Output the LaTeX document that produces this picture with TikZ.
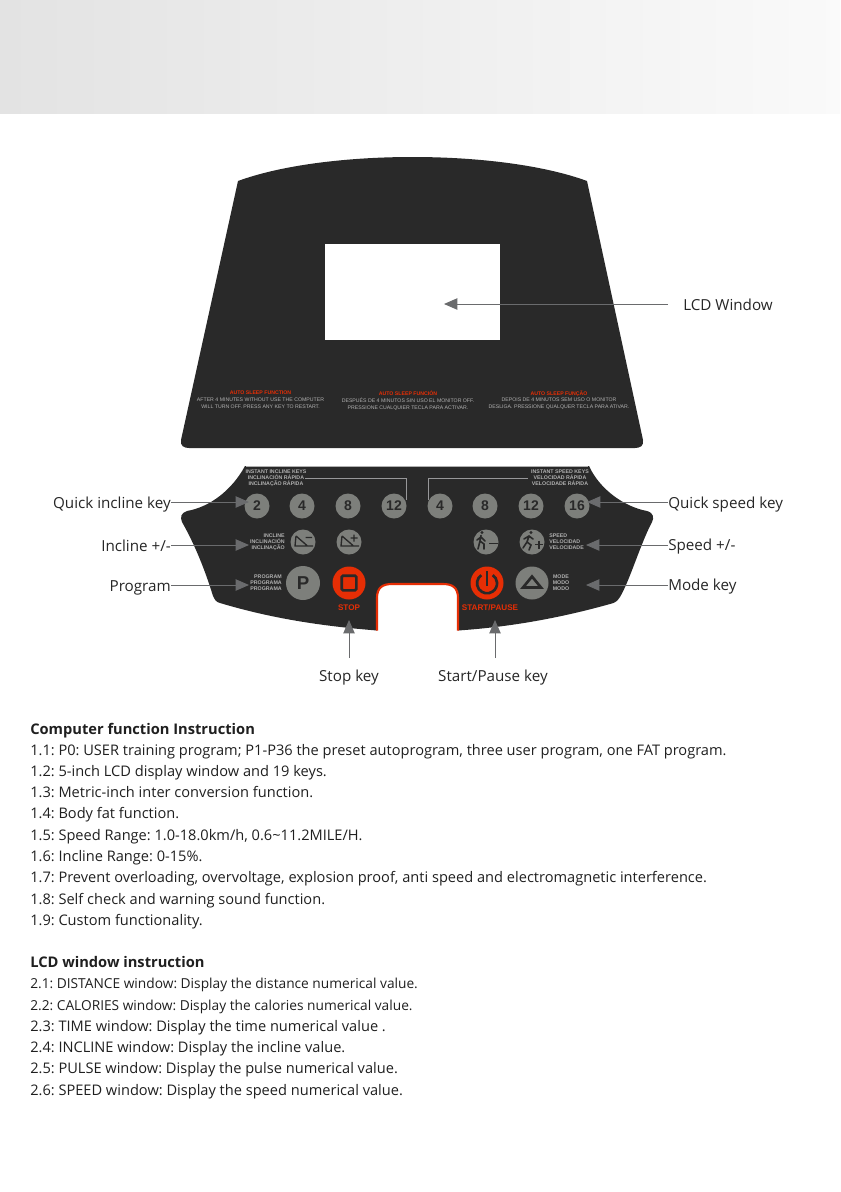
\documentclass[tikz,border=0pt]{standalone}
\usepackage{fontspec}
\setmainfont{Open Sans}
\newfontfamily\keyfont{Liberation Sans}
\usepackage{xcolor}
\usetikzlibrary{arrows.meta, calc, positioning}
\definecolor{panel}{HTML}{292929}
\definecolor{keygray}{HTML}{7D7F7B}
\definecolor{keyred}{HTML}{E62E05}
\definecolor{arrowgray}{HTML}{6A6B6D}
\definecolor{small}{HTML}{B0B0B0}
\newcommand{\narrowline}{\fontsize{10.3}{13}\selectfont}
\tikzset{
  roundkey/.style={circle, fill=keygray, minimum size=18.75pt, inner sep=0pt, text=panel, font=\keyfont\fontsize{10.5}{11}\selectfont\bfseries},
  redkey/.style={circle, fill=keyred, minimum size=24.75pt, inner sep=0pt},
  callout/.style={font=\fontsize{11.4}{13}\selectfont, text=black!85, inner sep=0pt},
  tinytext/.style={font=\keyfont\fontsize{3.95}{4.5}\selectfont\bfseries, text=small, inner sep=0pt, align=center},
  sleeptext/.style={font=\keyfont\fontsize{3.9}{5.25}\selectfont, text=small, inner sep=0pt, align=center},
  sleephead/.style={font=\keyfont\fontsize{3.9}{6}\selectfont\bfseries, text=keyred, inner sep=0pt},
  redlabel/.style={font=\keyfont\fontsize{6.1}{7}\selectfont\bfseries, text=keyred, inner sep=0pt},
  pointer/.style={draw=arrowgray, line width=0.75pt, -{Triangle[length=10pt, width=8.5pt]}},
  textline/.style={anchor=base west, inner sep=0pt, font=\fontsize{10.95}{13}\selectfont, text=black!88},
  headline/.style={textline, font=\fontsize{11}{13}\selectfont\bfseries}
}
\begin{document}
\frenchspacing
\begin{tikzpicture}[x=0.75pt, y=-0.75pt]
  \useasboundingbox (0,0) rectangle (840,1192);
  % header band
  \shade[left color=black!11, right color=black!2] (0,0) rectangle (840,113);
  % upper panel
  \fill[panel] (238,181) .. controls (325,149) and (500,149) .. (587,181)
    -- (643,440) .. controls (644,446) and (640,448) .. (635,448)
    -- (189,448) .. controls (184,448) and (180,446) .. (181,440) -- cycle;
  \node[fill=white, minimum width=131pt, minimum height=72.5pt, inner sep=0pt] (window) at (412.5,292) {};
  \node[sleephead] (head1) at (260.5,392.5) {AUTO SLEEP FUNCTION};
  \node[sleeptext] (body1) at (260.5,403.5) {AFTER 4 MINUTES WITHOUT USE THE COMPUTER\\WILL TURN OFF.  PRESS ANY KEY TO RESTART.};
  \node[sleephead] (head2) at (408,393.5) {AUTO SLEEP FUNCIÓN};
  \node[sleeptext] (body2) at (408,404.2) {DESPUÉS DE 4 MINUTOS SIN USO EL MONITOR OFF.\\PRESSIONE CUALQUIER TECLA PARA ACTIVAR.};
  \node[sleephead] (head3) at (559,393.5) {AUTO SLEEP FUNÇÃO};
  \node[sleeptext] (body3) at (559,403.7) {DEPOIS DE 4 MINUTOS SEM USO O MONITOR\\DESLIGA.  PRESSIONE QUALQUER TECLA PARA ATIVAR.};
  % lower panel
  \fill[panel] (245,466) -- (589,466) .. controls (600,490) and (625,507) .. (647,511)
    .. controls (654,513) and (654,518) .. (652,522) .. controls (640,545) and (630,580) .. (620,597)
    .. controls (617,602) and (614,603) .. (610,604) .. controls (560,618) and (510,627) .. (458,630.5)
    -- (377,630.5) .. controls (320,626) and (270,618) .. (220,603)
    .. controls (216,602) and (215,600) .. (213,596) .. controls (205,570) and (195,545) .. (182,522)
    .. controls (180,517) and (181,513) .. (187,511) .. controls (210,507) and (232,490) .. cycle;
  \fill[white] (377,631) -- (377,598) .. controls (377,588) and (382,584) .. (392,584)
    -- (443,584) .. controls (453,584) and (458,588) .. (458,598) -- (458,631) -- cycle;
  \draw[keyred, line width=1.6pt] (377,630.5) -- (377,598) .. controls (377,588) and (382,584) .. (392,584)
    -- (443,584) .. controls (453,584) and (458,588) .. (458,598) -- (458,630.5);
  \draw[small, line width=0.7pt] (246,466) -- (588,466);
  % round keys
  \foreach \name/\val/\xpos in {a/2/257, b/4/302, c/8/348, d/12/394, e/4/440, f/8/485, g/12/531, h/16/577}
    \node[roundkey] (key\name) at (\xpos,506) {\val};
  \draw[arrowgray!70!white, line width=0.75pt] (305,478) -- (406,478) -- (406,500);
  \draw[arrowgray!70!white, line width=0.75pt] (428,500) -- (428,478) -- (528,478);
  \node[tinytext] (inclkeys) at (276,478) {INSTANT INCLINE KEYS\\INCLINACIÓN RÁPIDA\\INCLINAÇÃO RÁPIDA};
  \node[tinytext] (speedkeys) at (560,478) {INSTANT SPEED KEYS\\VELOCIDAD RÁPIDA\\VELOCIDADE RÁPIDA};
  \node[roundkey] (inclminus) at (303,542) {};
  \node[roundkey] (inclplus) at (349,542) {};
  \node[roundkey] (speedminus) at (486,542) {};
  \node[roundkey] (speedplus) at (532,542) {};
  % incline icons
  \draw[panel, line width=1pt] (296,536) -- (295,546) -- (313,546) (296,536) -- (307,545.5) (305.5,537.5) -- (312,537.5);
  \draw[panel, line width=1pt] (342,536) -- (341,546) -- (359,546) (342,536) -- (353,545.5) (350.5,538) -- (357.5,538) (354,534.5) -- (354,541.5);
  % runner icons
  \draw[panel, line width=1.2pt, line cap=round] (481,535.5) -- (480,541) -- (478,549) (480,541) -- (484,544) -- (484,549) (477,540) -- (481,537) -- (485,541);
  \fill[panel] (482,532.5) circle (1.6);
  \draw[panel, line width=1pt] (489,543.5) -- (498,543.5);
  \draw[panel, line width=1.2pt, line cap=round] (529,536) -- (527,542) -- (523,548) (527,542) -- (531,545) -- (529,550) (524,539) -- (529,536) -- (533,539);
  \fill[panel] (531,532.5) circle (1.6);
  \draw[panel, line width=1pt] (535,544.5) -- (543,544.5) (539,540.5) -- (539,548.5);
  \node[tinytext, align=right, anchor=east] (incltext) at (285,542) {INCLINE\\INCLINACIÓN\\INCLINAÇÃO};
  \node[tinytext, align=left, anchor=west] (speedtext) at (549,542) {SPEED\\VELOCIDAD\\VELOCIDADE};
  \node[roundkey, minimum size=25.5pt, font=\keyfont\fontsize{14}{14}\selectfont\bfseries] (pkey) at (303,583) {P};
  \node[tinytext, align=right, anchor=east] (progtext) at (282,583) {PROGRAM\\PROGRAMA\\PROGRAMA};
  \node[redkey] (stopkey) at (349,583) {};
  \node[draw=panel, line width=2pt, fill=keyred, minimum size=11pt, inner sep=0pt, rounded corners=1pt] (stopsign) at (349,583) {};
  \node[redlabel] (stoptext) at (349,608) {STOP};
  \node[redkey] (startkey) at (487,583) {};
  \draw[panel, line width=2pt] (481.3,575.1) arc[start angle=235, end angle=-55, radius=10];
  \draw[keyred, line width=3.2pt] (487,571) -- (487,581);
  \draw[panel, line width=1.3pt] (487,571) -- (487,586);
  \node[redlabel] (starttext) at (490,608) {START/PAUSE};
  \node[roundkey, minimum size=24.75pt] (modekey) at (532,583) {};
  \draw[panel, line width=2pt, line join=miter] (532,576.5) -- (541,587.5) -- (523,587.5) -- cycle;
  \node[tinytext] (modetext) at (561,583) {MODE\\MODO\\MODO};
  % callouts
  \node[callout, anchor=east] (quickincl) at (171,505) {Quick incline key};
  \node[callout, anchor=east] (incl) at (171,546) {Incline +/-};
  \node[callout, anchor=east] (prog) at (171,588) {Program};
  \node[callout, anchor=west] (quickspeed) at (668,505) {Quick speed key};
  \node[callout, anchor=west] (speed) at (668,547) {Speed +/-};
  \node[callout, anchor=west] (mode) at (668,587) {Mode key};
  \node[callout] (lcd) at (728,305) {LCD Window};
  \node[callout] (stop) at (349,678) {Stop key};
  \node[callout] (start) at (493,678) {Start/Pause key};
  \coordinate (lcdtip) at (444,304);
  \coordinate (lcdtail) at (668,304);
  \coordinate (qitip) at (249,502);
  \coordinate (itip) at (249,545);
  \coordinate (ptip) at (249,585);
  \coordinate (qstip) at (587,502);
  \coordinate (stip) at (586,545);
  \coordinate (mtip) at (586,585);
  \coordinate (stoptip) at (349,620);
  \coordinate (stoptail) at (349,658);
  \coordinate (starttip) at (495,620);
  \coordinate (starttail) at (495,658);
  \draw[pointer] (lcdtail) -- (lcdtip);
  \draw[pointer] (quickincl.east |- qitip) -- (qitip);
  \draw[pointer] (incl.east |- itip) -- (itip);
  \draw[pointer] (prog.east |- ptip) -- (ptip);
  \draw[pointer] (quickspeed.west |- qstip) -- (qstip);
  \draw[pointer] (speed.west |- stip) -- (stip);
  \draw[pointer] (mode.west |- mtip) -- (mtip);
  \draw[pointer] (stoptail) -- (stoptip);
  \draw[pointer] (starttail) -- (starttip);
  % text
  \node[headline] (title1) at (30,734) {Computer function Instruction};
  \foreach \ypos/\txt [count=\i] in {
    755/{1.1: P0: USER training program; P1-P36 the preset autoprogram, three user program, one FAT program.},
    776/{1.2: 5-inch LCD display window and 19 keys.},
    797/{1.3: Metric-inch inter conversion function.},
    818/{1.4: Body fat function.},
    840/{1.5: Speed Range: 1.0-18.0km/h, 0.6\textasciitilde11.2MILE/H.},
    861/{1.6: Incline Range: 0-15\%.},
    882/{1.7: Prevent overloading, overvoltage, explosion proof, anti speed and electromagnetic interference.},
    904/{1.8: Self check and warning sound function.},
    925/{1.9: Custom functionality.}}
    \node[textline] (lineA\i) at (30,\ypos) {\txt};
  \node[headline] (title2) at (30,967) {LCD window instruction};
  \foreach \ypos/\txt [count=\i] in {
    988/{\narrowline 2.1: DISTANCE window: Display the distance numerical value.},
    1010/{\narrowline 2.2: CALORIES window: Display the calories numerical value.},
    1031/{2.3: TIME window: Display the time numerical value .},
    1052/{2.4: INCLINE window: Display the incline value.},
    1073/{2.5: PULSE window: Display the pulse numerical value.},
    1095/{2.6: SPEED window: Display the speed numerical value.}}
    \node[textline] (lineB\i) at (30,\ypos) {\txt};
\end{tikzpicture}
\end{document}
